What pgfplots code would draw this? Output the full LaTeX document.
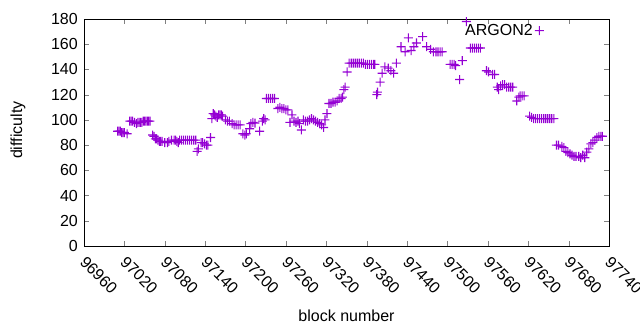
\documentclass[border=0pt]{standalone}
\usepackage{fontspec}
\setmainfont{Liberation Sans}
\usepackage{pgfplots}
\pgfplotsset{compat=1.18}
\definecolor{gpviolet}{HTML}{9400D3}
\pgfdeclareplotmark{vplus}{%
  \pgfsetcolor{gpviolet}%
  \pgfpathrectangle{\pgfqpoint{-\pgfplotmarksize}{-0.55pt}}{\pgfqpoint{2\pgfplotmarksize}{1.1pt}}%
  \pgfpathrectangle{\pgfqpoint{-0.55pt}{-\pgfplotmarksize}}{\pgfqpoint{1.1pt}{2\pgfplotmarksize}}%
  \pgfusepathqfill}
\begin{document}
\begin{tikzpicture}[font=\fontsize{16}{19}\selectfont]
\path[use as bounding box] (-84pt,-84pt) rectangle (556pt,246pt);
\begin{axis}[
  at={(0,0)}, anchor=south west,
  width=525pt, height=227pt, scale only axis,
  xmin=96960, xmax=97740, ymin=0, ymax=180,
  xtick={96960,97020,97080,97140,97200,97260,97320,97380,97440,97500,97560,97620,97680,97740},
  xticklabels={96960,97020,97080,97140,97200,97260,97320,97380,97440,97500,97560,97620,97680,97740},
  ytick={0,20,40,60,80,100,120,140,160,180},
  scaled x ticks=false, scaled y ticks=false,
  tick align=inside, xtick pos=both, ytick pos=both,
  major tick length=5pt,
  /pgf/number format/1000 sep={},
  /pgf/number format/assume math mode=true,
  xticklabel style={xshift=3pt, yshift=-9pt, rotate=-45, anchor=north west, inner sep=0pt, font=\fontsize{16}{19}\selectfont},
  yticklabel style={inner sep=2pt, xshift=-4pt, font=\fontsize{16}{19}\selectfont},
  xlabel={block number}, ylabel={difficulty},
  every axis x label/.style={at={(axis description cs:0.5,0)}, yshift=-70pt, anchor=center},
  every axis y label/.style={at={(axis description cs:0,0.51)}, xshift=-66pt, rotate=90, anchor=center},
  legend plot pos=right,
  legend style={at={(axis description cs:0.88,0.995)}, anchor=north east, draw=none, fill=none, inner sep=2pt, font=\fontsize{16}{19}\selectfont},
  legend cell align=right,
  axis line style={line width=0.8pt},
]
\addplot[only marks, mark=vplus, mark size=4.5pt, gpviolet] coordinates {
(97010,91) (97012,91) (97014,91) (97016,90) (97018,90) (97020,90) (97024,89)
(97028,99) (97030,99) (97032,99) (97035,98) (97038,97) (97040,98) (97042,98) (97044,98) (97046,98) (97048,99) (97050,99) (97052,99) (97054,99) (97056,99) (97058,99)
(97062,88) (97064,87) (97066,85) (97068,85) (97070,84) (97072,83) (97074,83) (97076,83) (97080,82) (97084,82) (97086,83) (97090,84) (97094,84) (97096,84) (97098,83) (97100,82) (97102,84) (97105,84) (97108,84) (97111,84) (97114,84) (97117,84) (97120,84) (97123,84) (97126,84)
(97128,75) (97130,77)
(97134,82) (97136,82) (97139,81) (97142,80) (97144,80) (97148,86)
(97150,101) (97152,105) (97154,104) (97156,103) (97158,102) (97160,104) (97162,104) (97164,104) (97166,103)
(97170,100) (97173,99) (97176,99) (97180,97) (97183,96) (97186,96) (97189,96) (97192,96)
(97196,89) (97199,88) (97201,89)
(97206,93) (97208,97) (97211,98) (97214,97.5) (97221,91) (97225,99) (97227,101) (97229,100)
(97231,117) (97234,117) (97237,117) (97240,117) (97243,117)
(97248,109) (97251,110) (97254,109) (97257,109) (97260,108) (97263,108)
(97266,98) (97269,104) (97272,99) (97275,98) (97278,99) (97280,97) (97283,92) (97286,100) (97289,99) (97292,99) (97295,100) (97298,101) (97301,100) (97304,99) (97307,98) (97310,97) (97313,96) (97316,94) (97318,100) (97321,105)
(97324,113) (97327,113) (97330,114) (97333,114) (97336,115) (97339,117) (97342,117) (97344,118) (97346,124) (97348,126) (97351,138)
(97354,145) (97357,145) (97360,145) (97363,145) (97366,145) (97369,145) (97372,145) (97375,145) (97378,144) (97381,144) (97384,144) (97387,144) (97390,144) (97392,144)
(97395,120) (97396,122) (97400,130) (97403,137) (97407,142) (97412,141) (97416,139) (97420,137) (97424,145)
(97431,158) (97437,154) (97442,165) (97446,155) (97450,158) (97454,161) (97463,166) (97469,158) (97475,156) (97479,154) (97483,154) (97486,154) (97489,154) (97492,154)
(97504,144) (97507,144) (97510,144) (97512,143) (97518,132) (97522,147) (97528,178)
(97534,157) (97537,157) (97540,157) (97543,157) (97546,157) (97549,157)
(97558,139) (97561,138) (97567,136) (97570,136) (97574,126) (97576,124) (97579,127) (97582,128) (97585,128) (97588,126) (97591,126) (97594,126) (97597,126)
(97603,115) (97606,118) (97608,119) (97611,119) (97614,119)
(97622,103) (97625,102) (97628,101) (97631,101) (97634,101) (97637,101) (97640,101) (97643,101) (97646,101) (97649,101) (97652,101) (97655,101) (97658,101)
(97662,80) (97665,80) (97670,79) (97673,78) (97676,75) (97679,74) (97682,73) (97685,72) (97688,71) (97691,71) (97695,71) (97698,70) (97701,72) (97704,70) (97707,74.5) (97710,77) (97713,81) (97716,82) (97719,84) (97722,86) (97725,87) (97728,87) (97730,87)
};
\addlegendentry{ARGON2}
\end{axis}
\end{tikzpicture}
\end{document}
